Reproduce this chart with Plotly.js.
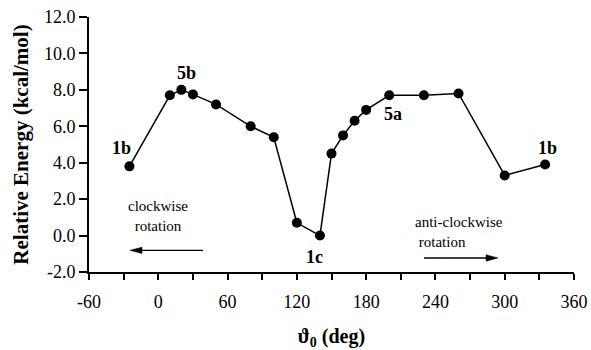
<!DOCTYPE html>
<html>
<head>
<meta charset="utf-8">
<script src="https://cdn.plot.ly/plotly-3.0.1.min.js"></script>
<style>html,body{margin:0;padding:0;background:#fff;}#chart{width:591px;height:350px;}</style>
</head>
<body>
<div id="chart"></div>
<script>
var angleDeg = [-25, 10, 20, 30, 50, 80, 100, 120, 140, 150, 160, 170, 180, 200, 230, 260, 300, 335];
var relEnergy = [3.8, 7.7, 8.0, 7.75, 7.2, 6.0, 5.4, 0.7, 0.0, 4.5, 5.5, 6.3, 6.9, 7.7, 7.7, 7.8, 3.3, 3.9];
var xTickVals = [-60, 0, 60, 120, 180, 240, 300, 360];
var yTickVals = [-2, 0, 2, 4, 6, 8, 10, 12];
var pointLabels = ['1b', '5b', '1c', '5a', '1b'];
var pointLabelIdx = [0, 2, 8, 13, 17];

var serif = 'Liberation Serif';
var labelShift = [[-8, 18], [5, 17], [-5, -21], [4, -19], [2, 17]];
var annotations = pointLabels.map(function (t, i) {
  var k = pointLabelIdx[i];
  return {
    x: angleDeg[k], y: relEnergy[k], xref: 'x', yref: 'y', text: '<b>' + t + '</b>',
    showarrow: false, xshift: labelShift[i][0], yshift: labelShift[i][1],
    font: {family: serif, size: 18, color: '#000'}
  };
});
annotations.push({
  x: 0, y: 1.1, xref: 'x', yref: 'y', text: 'clockwise<br>rotation', showarrow: false,
  align: 'center', font: {family: serif, size: 15, color: '#000'}
});
annotations.push({
  x: 221, y: 0.18, xref: 'x', yref: 'y', xanchor: 'left', text: 'anti-clockwise<br> rotation', showarrow: false,
  align: 'left', font: {family: serif, size: 15, color: '#000'}
});

// direction arrows: shaft lines + pixel-sized arrowheads
var shapes = [
  {type: 'line', xref: 'x', yref: 'y', x0: -20, x1: 38.7, y0: -0.81, y1: -0.81, line: {color: '#000', width: 1.3}},
  {type: 'path', xref: 'x', yref: 'y', xsizemode: 'pixel', ysizemode: 'pixel', xanchor: -24.5, yanchor: -0.81,
   path: 'M 0 0 L 12 3.2 L 12 -3.2 Z', fillcolor: '#000', line: {color: '#000', width: 0.5}},
  {type: 'line', xref: 'x', yref: 'y', x0: 230.1, x1: 290, y0: -1.23, y1: -1.23, line: {color: '#000', width: 1.3}},
  {type: 'path', xref: 'x', yref: 'y', xsizemode: 'pixel', ysizemode: 'pixel', xanchor: 294.2, yanchor: -1.23,
   path: 'M 0 0 L -12 3.2 L -12 -3.2 Z', fillcolor: '#000', line: {color: '#000', width: 0.5}}
];

var trace = {
  x: angleDeg, y: relEnergy, type: 'scatter', mode: 'lines+markers',
  line: {color: '#000', width: 1.5},
  marker: {color: '#000', size: 10},
  hoverinfo: 'skip'
};

var layout = {
  width: 591, height: 350,
  margin: {l: 89, r: 17, t: 17, b: 78},
  paper_bgcolor: '#fff', plot_bgcolor: '#fff',
  showlegend: false,
  font: {family: serif, color: '#000', size: 18},
  xaxis: {
    range: [-60, 360], tickvals: xTickVals, ticktext: xTickVals.map(String),
    ticks: 'outside', ticklen: 6, tickwidth: 2, tickcolor: '#000', ticklabelstandoff: 6,
    minor: {dtick: 30, tick0: -60, ticks: 'outside', ticklen: 6, tickwidth: 2, tickcolor: '#000', showgrid: false},
    showline: true, linecolor: '#000', linewidth: 2, showgrid: false, zeroline: false,
    tickfont: {family: serif, size: 18, color: '#000'},
    title: {text: '<b>\u03D1<sub>0</sub> (deg)</b>', font: {family: serif, size: 20, color: '#000'}, standoff: 22}
  },
  yaxis: {
    range: [-2, 12], tickvals: yTickVals, ticktext: yTickVals.map(function (v) { return v.toFixed(1); }),
    ticks: 'outside', ticklen: 8, tickwidth: 2, tickcolor: '#000',
    showline: true, linecolor: '#000', linewidth: 2, showgrid: false, zeroline: false,
    tickfont: {family: serif, size: 18, color: '#000'},
    title: {text: '<b>Relative Energy (kcal/mol)</b>', font: {family: serif, size: 21, color: '#000'}, standoff: 10}
  },
  annotations: annotations,
  shapes: shapes
};

Plotly.newPlot('chart', [trace], layout, {displayModeBar: false, staticPlot: true});
</script>
</body>
</html>
